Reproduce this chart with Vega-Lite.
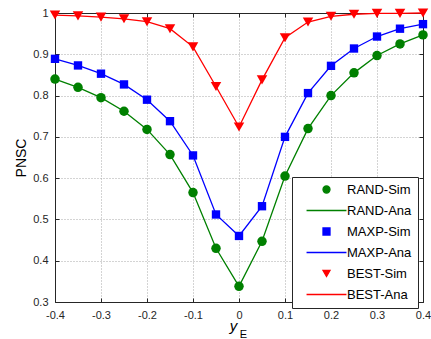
{
  "$schema": "https://vega.github.io/schema/vega-lite/v6.json",
  "width": 368,
  "height": 289,
  "autosize": "none",
  "padding": {"left": 55, "top": 13, "right": 8, "bottom": 37},
  "background": "white",
  "config": {
    "font": "Liberation Sans",
    "view": {"stroke": null},
    "axis": {
      "labelFont": "Liberation Sans",
      "labelFontSize": 11,
      "labelColor": "#262626",
      "domainColor": "#262626",
      "domainWidth": 1,
      "tickColor": "#262626",
      "tickSize": -4,
      "tickWidth": 1,
      "gridColor": "#a8a8a8",
      "gridDash": [1, 2],
      "gridWidth": 1,
      "gridOpacity": 1,
      "titleFont": "Liberation Sans",
      "titleColor": "#000000",
      "titleFontWeight": "normal",
      "labelFlush": false,
      "labelOverlap": false
    }
  },
  "data": {
    "values": [
      {"yE": -0.4, "PNSC": 0.84, "sim": "RAND-Sim", "ana": "RAND-Ana"},
      {"yE": -0.35, "PNSC": 0.82, "sim": "RAND-Sim", "ana": "RAND-Ana"},
      {"yE": -0.3, "PNSC": 0.795, "sim": "RAND-Sim", "ana": "RAND-Ana"},
      {"yE": -0.25, "PNSC": 0.762, "sim": "RAND-Sim", "ana": "RAND-Ana"},
      {"yE": -0.2, "PNSC": 0.718, "sim": "RAND-Sim", "ana": "RAND-Ana"},
      {"yE": -0.15, "PNSC": 0.657, "sim": "RAND-Sim", "ana": "RAND-Ana"},
      {"yE": -0.1, "PNSC": 0.565, "sim": "RAND-Sim", "ana": "RAND-Ana"},
      {"yE": -0.05, "PNSC": 0.43, "sim": "RAND-Sim", "ana": "RAND-Ana"},
      {"yE": 0, "PNSC": 0.338, "sim": "RAND-Sim", "ana": "RAND-Ana"},
      {"yE": 0.05, "PNSC": 0.447, "sim": "RAND-Sim", "ana": "RAND-Ana"},
      {"yE": 0.1, "PNSC": 0.605, "sim": "RAND-Sim", "ana": "RAND-Ana"},
      {"yE": 0.15, "PNSC": 0.72, "sim": "RAND-Sim", "ana": "RAND-Ana"},
      {"yE": 0.2, "PNSC": 0.8, "sim": "RAND-Sim", "ana": "RAND-Ana"},
      {"yE": 0.25, "PNSC": 0.855, "sim": "RAND-Sim", "ana": "RAND-Ana"},
      {"yE": 0.3, "PNSC": 0.897, "sim": "RAND-Sim", "ana": "RAND-Ana"},
      {"yE": 0.35, "PNSC": 0.925, "sim": "RAND-Sim", "ana": "RAND-Ana"},
      {"yE": 0.4, "PNSC": 0.947, "sim": "RAND-Sim", "ana": "RAND-Ana"},
      {"yE": -0.4, "PNSC": 0.889, "sim": "MAXP-Sim", "ana": "MAXP-Ana"},
      {"yE": -0.35, "PNSC": 0.873, "sim": "MAXP-Sim", "ana": "MAXP-Ana"},
      {"yE": -0.3, "PNSC": 0.853, "sim": "MAXP-Sim", "ana": "MAXP-Ana"},
      {"yE": -0.25, "PNSC": 0.827, "sim": "MAXP-Sim", "ana": "MAXP-Ana"},
      {"yE": -0.2, "PNSC": 0.79, "sim": "MAXP-Sim", "ana": "MAXP-Ana"},
      {"yE": -0.15, "PNSC": 0.738, "sim": "MAXP-Sim", "ana": "MAXP-Ana"},
      {"yE": -0.1, "PNSC": 0.655, "sim": "MAXP-Sim", "ana": "MAXP-Ana"},
      {"yE": -0.05, "PNSC": 0.512, "sim": "MAXP-Sim", "ana": "MAXP-Ana"},
      {"yE": 0, "PNSC": 0.46, "sim": "MAXP-Sim", "ana": "MAXP-Ana"},
      {"yE": 0.05, "PNSC": 0.532, "sim": "MAXP-Sim", "ana": "MAXP-Ana"},
      {"yE": 0.1, "PNSC": 0.7, "sim": "MAXP-Sim", "ana": "MAXP-Ana"},
      {"yE": 0.15, "PNSC": 0.806, "sim": "MAXP-Sim", "ana": "MAXP-Ana"},
      {"yE": 0.2, "PNSC": 0.872, "sim": "MAXP-Sim", "ana": "MAXP-Ana"},
      {"yE": 0.25, "PNSC": 0.914, "sim": "MAXP-Sim", "ana": "MAXP-Ana"},
      {"yE": 0.3, "PNSC": 0.943, "sim": "MAXP-Sim", "ana": "MAXP-Ana"},
      {"yE": 0.35, "PNSC": 0.962, "sim": "MAXP-Sim", "ana": "MAXP-Ana"},
      {"yE": 0.4, "PNSC": 0.973, "sim": "MAXP-Sim", "ana": "MAXP-Ana"},
      {"yE": -0.4, "PNSC": 0.995, "sim": "BEST-Sim", "ana": "BEST-Ana"},
      {"yE": -0.35, "PNSC": 0.993, "sim": "BEST-Sim", "ana": "BEST-Ana"},
      {"yE": -0.3, "PNSC": 0.99, "sim": "BEST-Sim", "ana": "BEST-Ana"},
      {"yE": -0.25, "PNSC": 0.986, "sim": "BEST-Sim", "ana": "BEST-Ana"},
      {"yE": -0.2, "PNSC": 0.979, "sim": "BEST-Sim", "ana": "BEST-Ana"},
      {"yE": -0.15, "PNSC": 0.962, "sim": "BEST-Sim", "ana": "BEST-Ana"},
      {"yE": -0.1, "PNSC": 0.918, "sim": "BEST-Sim", "ana": "BEST-Ana"},
      {"yE": -0.05, "PNSC": 0.822, "sim": "BEST-Sim", "ana": "BEST-Ana"},
      {"yE": 0, "PNSC": 0.724, "sim": "BEST-Sim", "ana": "BEST-Ana"},
      {"yE": 0.05, "PNSC": 0.838, "sim": "BEST-Sim", "ana": "BEST-Ana"},
      {"yE": 0.1, "PNSC": 0.94, "sim": "BEST-Sim", "ana": "BEST-Ana"},
      {"yE": 0.15, "PNSC": 0.978, "sim": "BEST-Sim", "ana": "BEST-Ana"},
      {"yE": 0.2, "PNSC": 0.992, "sim": "BEST-Sim", "ana": "BEST-Ana"},
      {"yE": 0.25, "PNSC": 0.997, "sim": "BEST-Sim", "ana": "BEST-Ana"},
      {"yE": 0.3, "PNSC": 0.999, "sim": "BEST-Sim", "ana": "BEST-Ana"},
      {"yE": 0.35, "PNSC": 0.999, "sim": "BEST-Sim", "ana": "BEST-Ana"},
      {"yE": 0.4, "PNSC": 1.0, "sim": "BEST-Sim", "ana": "BEST-Ana"}
    ]
  },
  "layer": [
    {
      "mark": {"type": "line", "strokeWidth": 1.3},
      "encoding": {
        "x": {
          "field": "yE", "type": "quantitative",
          "scale": {"domain": [-0.4, 0.4], "nice": false, "zero": false},
          "axis": {
            "orient": "bottom",
            "values": [-0.4, -0.3, -0.2, -0.1, 0, 0.1, 0.2, 0.3, 0.4],
            "labelExpr": "'' + datum.value",
            "labelPadding": 11,
            "grid": true,
            "title": "y",
            "titleFontSize": 15,
            "titleFontStyle": "italic",
            "titleX": 178,
            "titleY": 28,
            "titleAlign": "center",
            "titleBaseline": "alphabetic"
          }
        },
        "y": {
          "field": "PNSC", "type": "quantitative",
          "scale": {"domain": [0.3, 1], "nice": false, "zero": false},
          "axis": {
            "orient": "left",
            "values": [0.3, 0.4, 0.5, 0.6, 0.7, 0.8, 0.9, 1],
            "labelExpr": "'' + datum.value",
            "labelPadding": 11,
            "grid": true,
            "title": "PNSC",
            "titleFontSize": 14,
            "titleAngle": -90,
            "titleX": -30,
            "titleY": 144.5,
            "titleAlign": "center",
            "titleBaseline": "alphabetic"
          }
        },
        "color": {
          "field": "ana", "type": "nominal",
          "scale": {
            "domain": ["RAND-Sim", "RAND-Ana", "MAXP-Sim", "MAXP-Ana", "BEST-Sim", "BEST-Ana"],
            "range": ["#008000", "#008000", "#0000ff", "#0000ff", "#ff0000", "#ff0000"]
          }
        }
      }
    },
    {
      "mark": {"type": "point", "filled": true, "opacity": 1},
      "encoding": {
        "x": {
          "field": "yE", "type": "quantitative",
          "axis": {
            "orient": "top",
            "values": [-0.4, -0.3, -0.2, -0.1, 0, 0.1, 0.2, 0.3, 0.4],
            "labels": false,
            "grid": false,
            "title": "E",
            "titleFontSize": 11,
            "titleFontStyle": "normal",
            "titleX": 188,
            "titleY": 324,
            "titleAlign": "center",
            "titleBaseline": "alphabetic"
          }
        },
        "y": {
          "field": "PNSC", "type": "quantitative",
          "axis": {
            "orient": "right",
            "values": [0.3, 0.4, 0.5, 0.6, 0.7, 0.8, 0.9, 1],
            "labels": false,
            "grid": false,
            "title": null
          }
        },
        "color": {
          "field": "sim", "type": "nominal",
          "scale": {
            "domain": ["RAND-Sim", "RAND-Ana", "MAXP-Sim", "MAXP-Ana", "BEST-Sim", "BEST-Ana"],
            "range": ["#008000", "#008000", "#0000ff", "#0000ff", "#ff0000", "#ff0000"]
          },
          "legend": {
            "title": null,
            "orient": "none",
            "legendX": 237,
            "legendY": 164,
            "padding": 6,
            "rowPadding": 7,
            "symbolSize": 49,
            "symbolOffset": 22,
            "labelOffset": 14,
            "labelExpr": "datum.label + '     '",
            "labelFont": "Liberation Sans",
            "labelFontSize": 13,
            "labelColor": "#000000",
            "strokeColor": "#262626",
            "fillColor": "#ffffff",
            "cornerRadius": 0,
            "symbolStrokeWidth": 1.3,
            "symbolOpacity": 1,
            "encode": {
              "symbols": {
                "update": {
                  "shape": {"signal": "datum.value == 'RAND-Sim' ? 'circle' : datum.value == 'MAXP-Sim' ? 'square' : datum.value == 'BEST-Sim' ? 'triangle-down' : 'M-5.7,0H5.7'"},
                  "fill": {"scale": "color", "field": "value"},
                  "stroke": {"scale": "color", "field": "value"}
                }
              }
            }
          }
        },
        "shape": {
          "condition": [
            {"test": "datum.sim == 'RAND-Sim'", "value": "circle"},
            {"test": "datum.sim == 'MAXP-Sim'", "value": "square"}
          ],
          "value": "triangle-down"
        },
        "size": {
          "condition": [
            {"test": "datum.sim == 'RAND-Sim'", "value": 90},
            {"test": "datum.sim == 'MAXP-Sim'", "value": 70}
          ],
          "value": 110
        }
      }
    }
  ],
  "resolve": {"axis": {"x": "independent", "y": "independent"}}
}
